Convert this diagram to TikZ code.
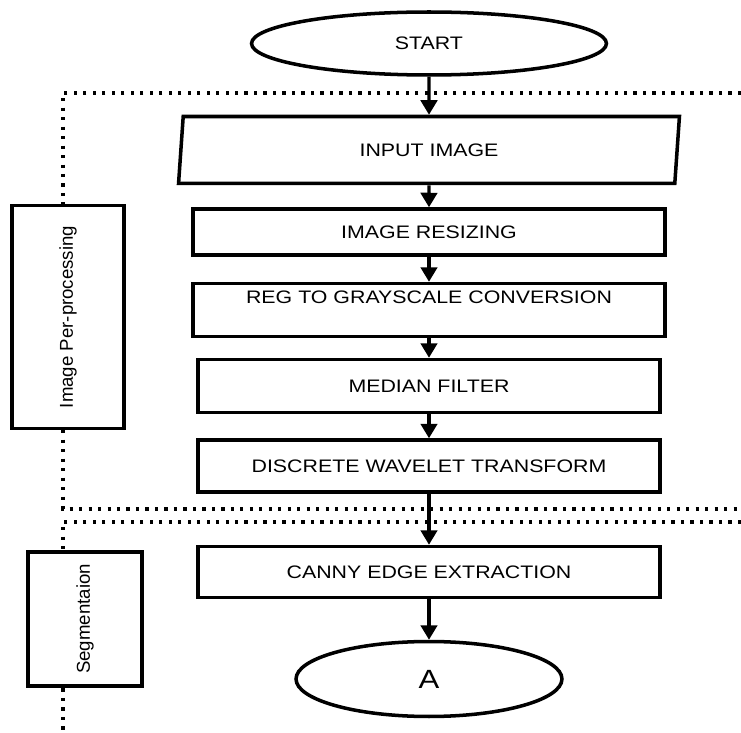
\documentclass[tikz,border=0pt]{standalone}
\usepackage{fontspec}
\setmainfont[FakeStretch=1.18]{Liberation Sans}
\newfontfamily\sidefont{Liberation Sans}
\usetikzlibrary{shapes.geometric,arrows.meta}
\begin{document}
\begin{tikzpicture}[x=0.02cm, y=-0.02cm, >={Triangle[length=0.29cm,width=0.33cm]},
  box/.style={draw, line width=2pt, fill=white, inner sep=0pt, font=\fontsize{10.3}{12}\selectfont},
  oval/.style={box, ellipse},
  sidebox/.style={draw, line width=2.2pt, fill=white, inner sep=0pt, rotate=90, font=\sidefont\fontsize{10.6}{12}\selectfont},
  dots/.style={line width=1.8pt, dash pattern=on 1.8pt off 3.6pt},
  flow/.style={->, line width=1.8pt}]
\useasboundingbox (0,0) rectangle (741,733);
\coordinate (p1) at (63,93); \coordinate (p2) at (741,93);
\coordinate (p3) at (63,509); \coordinate (p4) at (741,509);
\coordinate (s1) at (63,522); \coordinate (s2) at (741,522); \coordinate (s3) at (63,733);
\draw[dots] (p2)--(p1)--(p3)--(p4);
\draw[dots] (s2)--(s1)--(s3);
\node[oval, minimum width=7.1cm, minimum height=1.26cm] (start) at (429,43.5) {START};
\node[box, trapezium, trapezium left angle=70, trapezium right angle=110, trapezium stretches body,
  minimum width=10.02cm, minimum height=1.34cm] (input) at (429,150) {INPUT IMAGE};
\node[box, minimum width=9.44cm, minimum height=0.92cm] (resize) at (429,232) {IMAGE RESIZING};
\node[box, minimum width=9.44cm, minimum height=1.06cm, text depth=0.5cm] (gray) at (429,310) {REG TO GRAYSCALE CONVERSION};
\node[box, minimum width=9.24cm, minimum height=1.06cm] (median) at (429,386) {MEDIAN FILTER};
\node[box, minimum width=9.24cm, minimum height=1.04cm] (dwt) at (429,466) {DISCRETE WAVELET TRANSFORM};
\node[box, minimum width=9.24cm, minimum height=1.02cm] (canny) at (429,572) {CANNY EDGE EXTRACTION};
\node[oval, minimum width=5.32cm, minimum height=1.5cm, font=\fontsize{15}{18}\selectfont] (enda) at (429,679) {A};
\node[sidebox, minimum width=4.46cm, minimum height=2.24cm] (prep) at (68,317) {Image Per-processing};
\node[sidebox, minimum width=2.68cm, minimum height=2.28cm] (seg) at (85,619) {Segmentaion};
\draw[flow](start)--(input);
\draw[flow](input)--(resize);
\draw[flow](resize)--(gray);
\draw[flow](gray)--(median);
\draw[flow](median)--(dwt);
\draw[flow](dwt)--(canny);
\draw[flow](canny)--(enda);
\end{tikzpicture}
\end{document}
